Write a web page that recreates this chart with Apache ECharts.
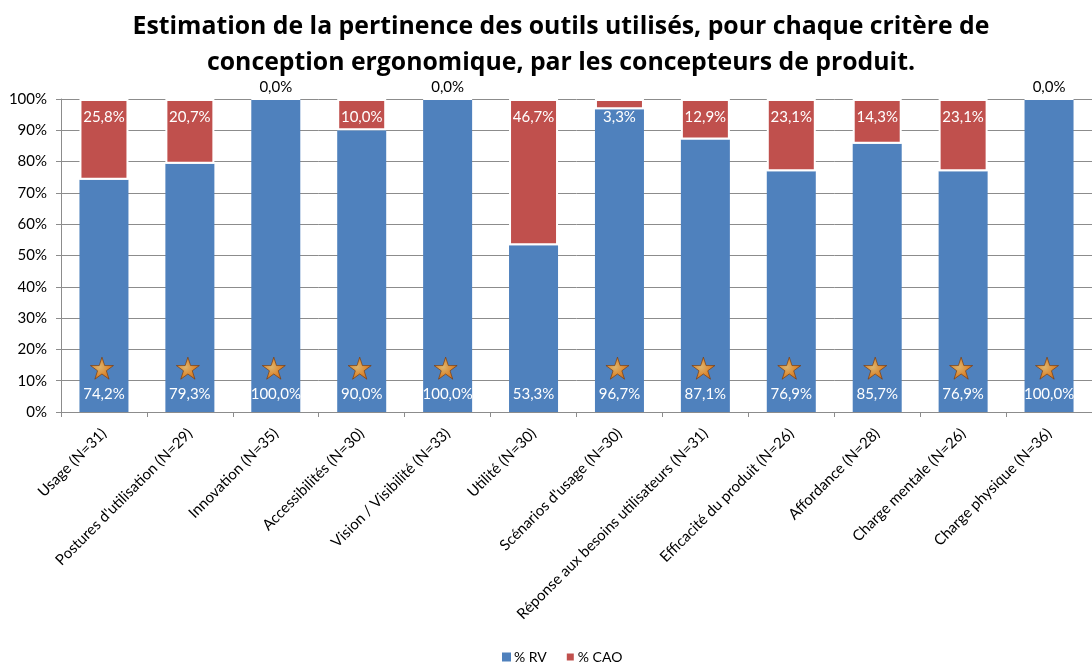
<!DOCTYPE html>
<html>
<head>
<meta charset="utf-8">
<script src="https://cdn.jsdelivr.net/npm/echarts@6/dist/echarts.min.js"></script>
<style>
  html, body { margin: 0; padding: 0; background: #fff; }
  #chart { width: 1092px; height: 664px; }
</style>
</head>
<body>
<div id="chart"></div>
<script>
// Criteria (with number of respondents) and the share of each tool
const categories = [
  "Usage (N=31)",
  "Postures d'utilisation (N=29)",
  "Innovation (N=35)",
  "Accessibilités (N=30)",
  "Vision / Visibilité (N=33)",
  "Utilité (N=30)",
  "Scénarios d'usage (N=30)",
  "Réponse aux besoins utilisateurs (N=31)",
  "Efficacité du produit (N=26)",
  "Affordance (N=28)",
  "Charge mentale (N=26)",
  "Charge physique (N=36)"
];
const rvValues  = [74.2, 79.3, 100.0, 90.0, 100.0, 53.3, 96.7, 87.1, 76.9, 85.7, 76.9, 100.0];
const caoValues = [25.8, 20.7, 0.0, 10.0, 0.0, 46.7, 3.3, 12.9, 23.1, 14.3, 23.1, 0.0];
// Criteria flagged with a star
const starred   = [true, true, true, true, true, false, true, true, true, true, true, true];
const yTicks    = [0, 10, 20, 30, 40, 50, 60, 70, 80, 90, 100];

const FONT = 'Lato, "Open Sans", sans-serif';
const TITLE_FONT = '"Open Sans", Lato, sans-serif';
const fmtPct = v => v.toFixed(1).replace('.', ',') + '%';
const STAR = 'path://M50,0 L61.2,34.5 L97.6,34.5 L68.2,55.9 L79.4,90.5 L50,69.1 L20.6,90.5 L31.8,55.9 L2.4,34.5 L38.8,34.5 Z';

const caoData = caoValues.map(v => v === 0
  ? { value: v, label: { position: 'top', color: '#000', distance: 3 } }
  : v);

const starData = [];
starred.forEach((s, i) => { if (s) starData.push([i, 14]); });

const chart = echarts.init(document.getElementById('chart'), null, { renderer: 'canvas' });
chart.setOption({
  animation: false,
  backgroundColor: '#fff',
  textStyle: { fontFamily: FONT },
  title: {
    text: 'Estimation de la pertinence des outils utilisés, pour chaque critère de\nconception ergonomique, par les concepteurs de produit.',
    left: 556,
    textAlign: 'center',
    top: 4,
    textStyle: { fontFamily: TITLE_FONT, fontSize: 24.8, fontWeight: 'bold', color: '#000', lineHeight: 36 }
  },
  legend: {
    data: ['% RV', '% CAO'],
    top: 645,
    left: 497,
    icon: 'rect',
    itemWidth: 9,
    itemHeight: 9,
    itemGap: 18,
    textStyle: { fontFamily: FONT, fontSize: 14, color: '#000', padding: [0, 0, 0, -2] }
  },
  grid: { left: 61, top: 99, width: 1039, height: 313, containLabel: false },
  xAxis: {
    type: 'category',
    data: categories,
    axisLine: { lineStyle: { color: '#8c8c8c', width: 1 } },
    axisTick: { show: true, length: 5, lineStyle: { color: '#8c8c8c' } },
    axisLabel: { rotate: 45, interval: 0, margin: 19, fontSize: 15, color: '#000', fontFamily: FONT }
  },
  yAxis: {
    type: 'value',
    min: yTicks[0],
    max: yTicks[yTicks.length - 1],
    interval: yTicks[1] - yTicks[0],
    axisLine: { show: true, lineStyle: { color: '#8c8c8c', width: 1 } },
    axisTick: { show: true, length: 5, lineStyle: { color: '#8c8c8c' } },
    splitLine: { lineStyle: { color: '#8c8c8c', width: 1 } },
    axisLabel: { formatter: '{value}%', fontSize: 15, color: '#000', margin: 14, fontFamily: FONT }
  },
  series: [
    {
      name: '% RV',
      type: 'bar',
      stack: 'total',
      data: rvValues,
      barWidth: 49,
      itemStyle: { color: '#4F81BD' },
      label: {
        show: true,
        position: 'insideBottom',
        distance: 10,
        color: '#fff',
        fontSize: 15,
        fontFamily: FONT,
        formatter: p => fmtPct(p.value)
      }
    },
    {
      name: '% CAO',
      type: 'bar',
      stack: 'total',
      data: caoData,
      barWidth: 49,
      itemStyle: { color: '#C0504D', borderColor: '#fff', borderWidth: 2 },
      label: {
        show: true,
        position: 'insideTop',
        distance: 11,
        color: '#fff',
        fontSize: 15,
        fontFamily: FONT,
        formatter: p => fmtPct(p.value)
      }
    },
    {
      name: 'star',
      type: 'scatter',
      data: starData,
      symbol: STAR,
      symbolSize: [23, 22],
      symbolOffset: [-2, 0],
      z: 5,
      silent: true,
      itemStyle: {
        color: {
          type: 'radial', x: 0.4, y: 0.45, r: 0.7,
          colorStops: [
            { offset: 0, color: '#FFC25A' },
            { offset: 0.5, color: '#FF8F14' },
            { offset: 1, color: '#D45F00' }
          ]
        },
        borderColor: '#7A3500',
        borderWidth: 0.8
      }
    }
  ]
});
</script>
</body>
</html>
